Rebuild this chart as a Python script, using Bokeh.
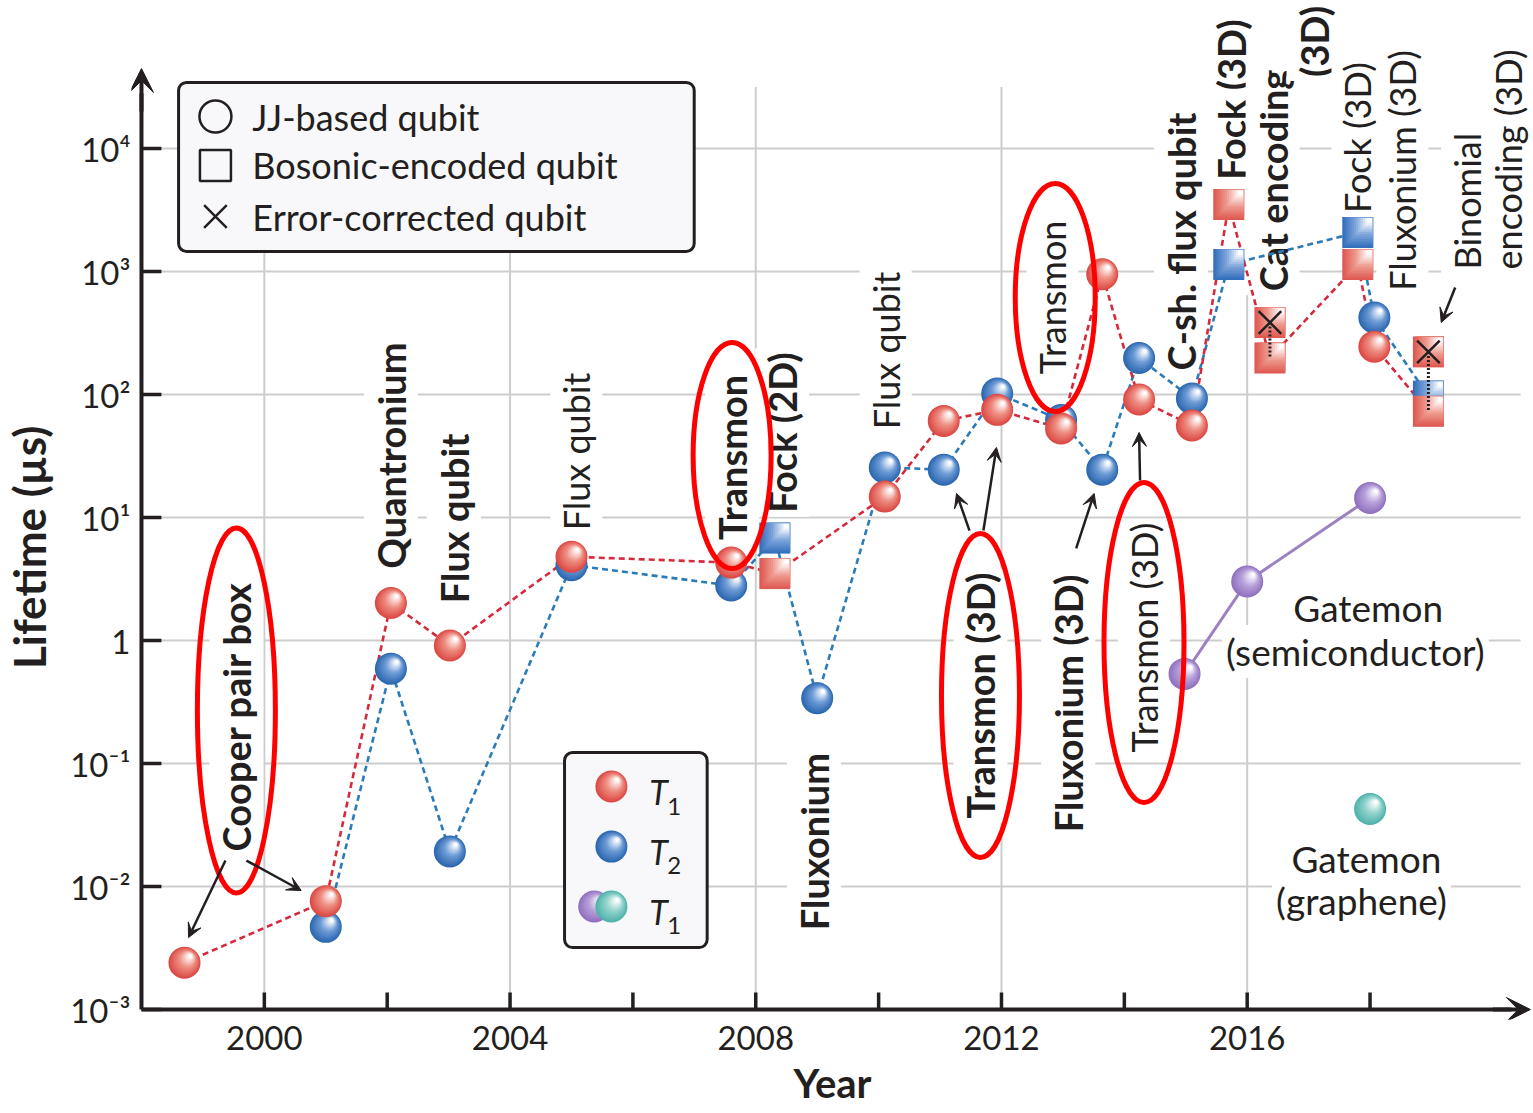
import math
from bokeh.plotting import figure
from bokeh.models import FixedTicker, Arrow, VeeHead
from bokeh.core.properties import value
from bokeh.embed import file_html
from bokeh.resources import INLINE

# ---------------- data ----------------
# T1 (red) series in chronological order; kind c = JJ-based (sphere), s = bosonic (square)
t1_years = [1998.70, 2001.00, 2002.06, 2003.02, 2005.00, 2007.60, 2008.31, 2010.10,
            2011.06, 2011.93, 2012.97, 2013.64, 2014.24, 2015.10, 2015.70, 2016.37,
            2017.80, 2018.07, 2018.95]
t1_values = [0.0024, 0.0076, 2.02, 0.91, 4.8, 4.3, 3.5, 14.8,
             61, 75, 53, 950, 91, 56, 3500, 198,
             1140, 245, 73]
t1_kind = ["c", "c", "c", "c", "c", "c", "s", "c",
           "c", "c", "c", "c", "c", "c", "s", "s",
           "s", "c", "s"]

# T2 (blue) series
t2_years = [2001.00, 2002.06, 2003.02, 2005.00, 2007.60, 2008.31, 2009.00, 2010.10,
            2011.06, 2011.93, 2012.97, 2013.64, 2014.24, 2015.10, 2015.70, 2017.80,
            2018.07, 2018.95]
t2_values = [0.0047, 0.59, 0.0193, 4.1, 2.8, 6.8, 0.34, 25.5,
             24.5, 102, 62, 24.5, 198, 93, 1140, 2075,
             423, 97]
t2_kind = ["c", "c", "c", "c", "c", "s", "c", "c",
           "c", "c", "c", "c", "c", "c", "s", "s",
           "c", "s"]

# error-corrected qubits (crossed squares)
ec_years = [2016.37, 2018.95]
ec_values = [385, 222]

# gatemons (T1)
gatemon_semi_years = [2014.98, 2016.00, 2018.00]
gatemon_semi_values = [0.535, 3.02, 14.4]
gatemon_graph_years = [2018.00]
gatemon_graph_values = [0.0427]

# axes
tick_years = [2000, 2002, 2004, 2006, 2008, 2010, 2012, 2014, 2016, 2018]
grid_years = [2000, 2004, 2008, 2012, 2016]
decades = [1e-3, 1e-2, 1e-1, 1.0, 1e1, 1e2, 1e3, 1e4]
decade_labels = ["10\u207b\u00b3", "10\u207b\u00b2", "10\u207b\u00b9", "1",
                 "10\u00b9", "10\u00b2", "10\u00b3", "10\u2074"]

# ---------------- layout ----------------
FONT = "Lato"
INK = "#231f20"
W, H = 1533, 1113
BL, BB = 128, 94
PX_YEAR = 61.56          # pixels per year
PX_DEC = 123.0           # pixels per decade
AX_X = 1998.0            # year where the y axis stands
AX_Y = 1e-3              # value where the x axis stands
X_START = AX_X - 10 / PX_YEAR
X_END = X_START + (W - BL) / PX_YEAR
Y_START = AX_Y * 10 ** (-10 / PX_DEC)
Y_END = Y_START * 10 ** ((H - BB) / PX_DEC)

p = figure(width=W, height=H, x_range=(X_START, X_END), y_range=(Y_START, Y_END),
           y_axis_type="log", output_backend="svg", toolbar_location=None,
           min_border_left=BL, min_border_right=0, min_border_top=0, min_border_bottom=BB)
p.outline_line_color = None
p.xgrid.visible = False
p.ygrid.visible = False


def shifted(xs, ys, dx, dy):
    return [x + dx / PX_YEAR for x in xs], [y * 10 ** (dy / PX_DEC) for y in ys]


def hex2rgb(h):
    h = h.lstrip("#")
    return tuple(int(h[i:i + 2], 16) for i in (0, 2, 4))


def mix(c1, c2, t):
    a, b = hex2rgb(c1), hex2rgb(c2)
    return "#%02x%02x%02x" % tuple(int(round(a[i] + (b[i] - a[i]) * t)) for i in range(3))


def grad(edge, mid, t):
    if t < 0.5:
        return mix(edge, mid, t / 0.5)
    return mix(mid, "#ffffff", (t - 0.5) / 0.5)


def spheres(xs, ys, edge, mid, size=32, n=16):
    if not xs:
        return
    for k in range(n):
        t = k / (n - 1)
        s = size * (1 - 0.9 * t)
        off = (size - s) / 2 * 0.62
        x2, y2 = shifted(xs, ys, off * 0.65, off * 0.76)
        p.scatter(x2, y2, size=s, marker="circle", fill_color=grad(edge, mid, t), line_color=None)


def squares(xs, ys, edge, mid, size=31, n=12):
    if not xs:
        return
    for k in range(n):
        t = k / (n - 1)
        s = size * (1 - 0.85 * t)
        off = (size - s) / 2 * 0.9
        x2, y2 = shifted(xs, ys, off, off)
        p.scatter(x2, y2, size=s, marker="square", fill_color=grad(edge, mid, t), line_color=None)


def texts(xs, ys, txt, size="36px", style="normal", angle=0.0, align="center", bg=True, color=INK):
    kw = dict(text_font=value(FONT), text_font_size=size, text_font_style=style, angle=angle,
              text_align=align, text_baseline="middle", text_color=color)
    if bg:
        kw.update(background_fill_color="white", padding=4)
    p.text(x=xs, y=ys, text=txt, **kw)


# ---------------- axes (labels from Bokeh axes, rule and ticks drawn on the frame) ----------------
xa = p.xaxis[0]
xa.ticker = FixedTicker(ticks=tick_years, minor_ticks=[])
xa.major_label_overrides = {t: "" for t in tick_years if t not in grid_years}
ya = p.yaxis[0]
ya.ticker = FixedTicker(ticks=decades, minor_ticks=[])
ya.major_label_overrides = dict(zip(decades, decade_labels))
for ax in (xa, ya):
    ax.axis_line_color = None
    ax.major_tick_line_color = None
    ax.minor_tick_line_color = None
    ax.major_tick_in = 0
    ax.major_tick_out = 0
    ax.major_label_text_font = FONT
    ax.major_label_text_font_size = "33px"
    ax.major_label_text_color = INK
    ax.axis_label_text_font = FONT
    ax.axis_label_text_font_style = "bold"
    ax.axis_label_text_color = INK
xa.major_label_standoff = 6
ya.major_label_standoff = 1
xa.axis_label = "Year"
xa.axis_label_text_font_size = "40px"
xa.axis_label_standoff = 6
ya.axis_label = "Lifetime (\u00b5s)" + "\u00a0" * 7
ya.axis_label_text_font_size = "44px"
ya.axis_label_standoff = 12

# grid
GRID = "#cdcdcd"
p.segment(x0=grid_years, y0=[AX_Y] * len(grid_years), x1=grid_years, y1=[10 ** 4.5] * len(grid_years),
          line_color=GRID, line_width=2)
p.segment(x0=[AX_X] * (len(decades) - 1), y0=decades[1:], x1=[2020.45] * (len(decades) - 1), y1=decades[1:],
          line_color=GRID, line_width=2)

# legend boxes
p.quad(left=[1998.604, 2004.887], right=[2006.998, 2007.209], top=[34430, 0.1227], bottom=[1455, 0.00319],
       fill_color="#f8f8fa", line_color=INK, line_width=3, border_radius=8)

# ---------------- labels ----------------
bold_labels = ["Cooper pair box", "Quantronium", "Flux qubit", "Transmon", "Fock (2D)", "Fluxonium",
               "Transmon (3D)", "Fluxonium (3D)", "C-sh. flux qubit", "Fock (3D)", "Cat encoding", "(3D)"]
bold_x = [1999.545, 2002.06, 2003.085, 2007.615, 2008.43, 2008.946,
          2011.658, 2013.087, 2014.92, 2015.73, 2016.415, 2017.08]
bold_y = [0.241, 31.9, 9.82, 30.8, 49.1, 0.0232,
          0.357, 0.308, 1754, 25000, 5495, 74130]
texts(bold_x, bold_y, bold_labels, size="38px", style="bold", angle=math.pi / 2)

reg_labels = ["Flux qubit", "Flux qubit", "Transmon", "Transmon (3D)", "Fock (3D)", "Fluxonium (3D)"]
reg_x = [2005.08, 2010.115, 2012.83, 2014.32, 2017.795, 2018.526]
reg_y = [34.4, 228, 615, 1.057, 12270, 6622]
texts(reg_x, reg_y, reg_labels, angle=math.pi / 2)

texts([2019.58, 2020.247], [964, 964], ["Binomial", "encoding (3D)"], angle=math.pi / 2, align="left")

texts([2017.97, 2017.76, 2017.94, 2017.86], [1.853, 0.815, 0.0169, 0.00769],
      ["Gatemon", "(semiconductor)", "Gatemon", "(graphene)"], size="37px")

# ---------------- series lines ----------------
p.line(gatemon_semi_years, gatemon_semi_values, line_color="#9c82c2", line_width=3)
p.line(t2_years, t2_values, line_color="#2b7bb9", line_width=2.6, line_dash="6 4")
p.line(t1_years, t1_values, line_color="#d42a3c", line_width=2.6, line_dash="6 4")

# ---------------- markers ----------------
RED_E, RED_M = "#dc4a45", "#ee8f83"
BLU_E, BLU_M = "#2c68b0", "#6d9bd6"
PUR_E, PUR_M = "#9071bf", "#b9a2db"
TEA_E, TEA_M = "#4fb3ab", "#93d3cd"


def pick(xs, ys, kinds, k):
    sel = [i for i, kk in enumerate(kinds) if kk == k]
    return [xs[i] for i in sel], [ys[i] for i in sel]


bx, by = pick(t2_years, t2_values, t2_kind, "c")
spheres(bx, by, BLU_E, BLU_M)
bx, by = pick(t2_years, t2_values, t2_kind, "s")
squares(bx, by, "#3570bd", "#7ea6db")
rx, ry = pick(t1_years, t1_values, t1_kind, "c")
spheres(rx, ry, RED_E, RED_M)
rx, ry = pick(t1_years, t1_values, t1_kind, "s")
squares(rx, ry, "#de5a52", "#ee9a8f")
spheres(gatemon_semi_years, gatemon_semi_values, PUR_E, PUR_M)
spheres(gatemon_graph_years, gatemon_graph_values, TEA_E, TEA_M)

# error-corrected: crossed squares linked to uncorrected T1 by a dotted line
squares(ec_years, ec_values, "#de5a52", "#ee9a8f")
ec_base = [t1_values[t1_years.index(yv)] for yv in ec_years]
p.segment(x0=ec_years, y0=ec_values, x1=ec_years, y1=ec_base, line_color=INK, line_width=3, line_dash="2 2")
p.scatter(ec_years, ec_values, marker="x", size=32, line_color=INK, line_width=2.5)

# red ellipses
p.ellipse(x=[1999.545, 2007.615, 2012.875, 2011.658, 2014.32],
          y=[0.27, 31.9, 615, 0.357, 0.964],
          width=[78, 78, 80, 78, 80], height=[365, 226, 228, 324, 320],
          width_units="screen", height_units="screen",
          fill_color=None, line_color="#ff0000", line_width=5)

# ---------------- legend contents ----------------
lg_x = [1999.204] * 3
lg_y = [18200, 7278, 2798]
p.scatter(lg_x[:1], lg_y[:1], marker="circle", size=32, fill_color=None, line_color=INK, line_width=2.5)
p.scatter(lg_x[1:2], lg_y[1:2], marker="square", size=31, fill_color=None, line_color=INK, line_width=2.5)
p.scatter(lg_x[2:], lg_y[2:], marker="x", size=32, line_color=INK, line_width=2.5)
texts([1999.805] * 3, lg_y, ["JJ-based qubit", "Bosonic-encoded qubit", "Error-corrected qubit"],
      size="36px", align="left", bg=False)

spheres([2005.65], [0.065], RED_E, RED_M)
spheres([2005.65], [0.0211], BLU_E, BLU_M)
spheres([2005.37], [0.00687], PUR_E, PUR_M)
spheres([2005.65], [0.00687], TEA_E, TEA_M)
p.text(x=[2006.267] * 3, y=[0.0591, 0.0193, 0.00627], text=["T", "T", "T"],
       text_font=value(FONT), text_font_size="34px", text_font_style="italic",
       text_align="left", text_baseline="middle", text_color=INK)
p.text(x=[2006.56] * 3, y=[0.0445, 0.0148, 0.00478], text=["1", "2", "1"],
       text_font=value(FONT), text_font_size="24px",
       text_align="left", text_baseline="middle", text_color=INK)

# ---------------- axis rules and ticks ----------------
tick_top = AX_Y * 10 ** (17 / PX_DEC)
p.segment(x0=tick_years, y0=[AX_Y] * len(tick_years), x1=tick_years, y1=[tick_top] * len(tick_years),
          line_color=INK, line_width=3.5)
tick_right = AX_X + 20 / PX_YEAR
p.segment(x0=[AX_X] * len(decades), y0=decades, x1=[tick_right] * len(decades), y1=decades,
          line_color=INK, line_width=3.5)
p.segment(x0=[AX_X, AX_X], y0=[AX_Y, AX_Y], x1=[AX_X, 2020.3], y1=[10 ** 4.45, AX_Y],
          line_color=INK, line_width=4)

# ---------------- arrows ----------------
arrows = [
    ((1999.367, 0.01626), (1998.766, 0.003846)),
    ((1999.708, 0.01626), (2000.60, 0.00928)),
    ((2011.479, 7.83), (2011.268, 15.7)),
    ((2011.706, 7.83), (2011.918, 37.1)),
    ((2013.216, 5.6), (2013.509, 15.7)),
    ((2014.256, 20.0), (2014.24, 49.1)),
    ((2019.386, 741), (2019.159, 385)),
]
for (xs0, ys0), (xs1, ys1) in arrows:
    p.add_layout(Arrow(end=VeeHead(size=14, fill_color=INK, line_color=INK, line_width=1),
                       x_start=xs0, y_start=ys0, x_end=xs1, y_end=ys1,
                       line_color=INK, line_width=2.5))

# axis arrow heads
p.add_layout(Arrow(end=VeeHead(size=24, fill_color=INK, line_color=INK, line_width=1),
                   x_start=2020.0, y_start=AX_Y, x_end=2020.61, y_end=AX_Y,
                   line_color=INK, line_width=4))
p.add_layout(Arrow(end=VeeHead(size=24, fill_color=INK, line_color=INK, line_width=1),
                   x_start=AX_X, y_start=10 ** 4.3, x_end=AX_X, y_end=10 ** 4.65,
                   line_color=INK, line_width=4))

open("out.html", "w").write(file_html(p, INLINE))
